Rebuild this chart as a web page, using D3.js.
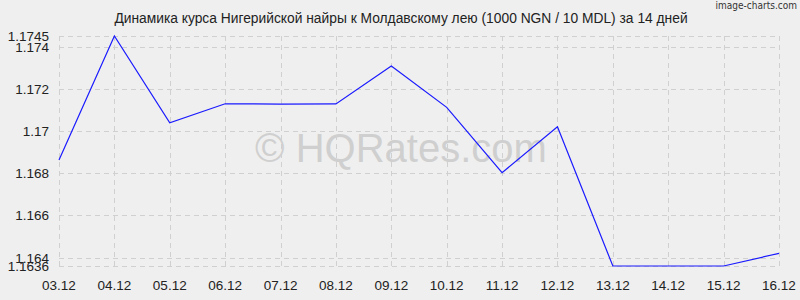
<!DOCTYPE html>
<html>
<head>
<meta charset="utf-8">
<script src="https://cdn.jsdelivr.net/npm/d3@7"></script>
<style>
  body { margin: 0; background: #efefef; }
  svg { display: block; font-family: "Liberation Sans", Arial, sans-serif; }
</style>
</head>
<body>
<svg width="800" height="300"></svg>
<script>
// Data
const dates = ["03.12", "04.12", "05.12", "06.12", "07.12", "08.12", "09.12",
               "10.12", "11.12", "12.12", "13.12", "14.12", "15.12", "16.12"];
const rates = [1.16862, 1.1745, 1.17039, 1.17129, 1.17127, 1.17128, 1.17308,
               1.17112, 1.16802, 1.1702, 1.1636, 1.1636, 1.1636, 1.1642];
const yTicks = [1.1636, 1.164, 1.166, 1.168, 1.17, 1.172, 1.174, 1.1745];

const svg = d3.select("svg");
const plotLeft = 59, plotRight = 779, plotTop = 36, plotBottom = 266;

const x = d3.scalePoint().domain(dates).range([plotLeft, plotRight]);
const y = d3.scaleLinear().domain([1.1636, 1.1745]).range([plotBottom, plotTop]);

svg.append("rect").attr("width", 800).attr("height", 300).attr("fill", "#efefef");

// watermark
svg.append("text")
    .attr("x", 401).attr("y", 162)
    .attr("text-anchor", "middle")
    .attr("font-size", 40)
    .attr("fill", "#cfcfcf")
    .text("© HQRates.com");

// grid
const grid = svg.append("g").attr("stroke", "#d0d0d0").attr("stroke-dasharray", "5,4");
grid.selectAll("line.h").data(yTicks).join("line")
    .attr("x1", plotLeft).attr("x2", plotRight)
    .attr("y1", d => Math.round(y(d)) + 0.5).attr("y2", d => Math.round(y(d)) + 0.5);
grid.selectAll("line.v").data(dates).join("line")
    .attr("y1", plotTop).attr("y2", plotBottom + 4)
    .attr("x1", d => Math.round(x(d)) + 0.5).attr("x2", d => Math.round(x(d)) + 0.5);

// y labels
svg.append("g").selectAll("text").data(yTicks).join("text")
    .attr("x", 49).attr("y", d => y(d) + 5)
    .attr("text-anchor", "end")
    .attr("font-size", 13.5)
    .attr("fill", "#222")
    .text(d => d3.format("")(d));

// x labels
svg.append("g").selectAll("text").data(dates).join("text")
    .attr("x", d => x(d)).attr("y", 290)
    .attr("text-anchor", "middle")
    .attr("font-size", 13.5)
    .attr("fill", "#222")
    .text(d => d);

// line
const line = d3.line().x((d, i) => x(dates[i])).y(d => y(d));
svg.append("path").datum(rates)
    .attr("d", line)
    .attr("fill", "none")
    .attr("stroke", "#1a1aff")
    .attr("stroke-width", 1.2);

// title
svg.append("text")
    .attr("x", 401).attr("y", 23)
    .attr("text-anchor", "middle")
    .attr("font-size", 13.8)
    .attr("fill", "#222")
    .text("Динамика курса Нигерийской найры к Молдавскому лею (1000 NGN / 10 MDL) за 14 дней");

svg.append("text")
    .attr("x", 797).attr("y", 9)
    .attr("text-anchor", "end")
    .attr("font-size", 10)
    .attr("font-family", "'Liberation Sans Narrow', 'DejaVu Sans Condensed', sans-serif")
    .attr("fill", "#333")
    .text("image-charts.com");
</script>
</body>
</html>
